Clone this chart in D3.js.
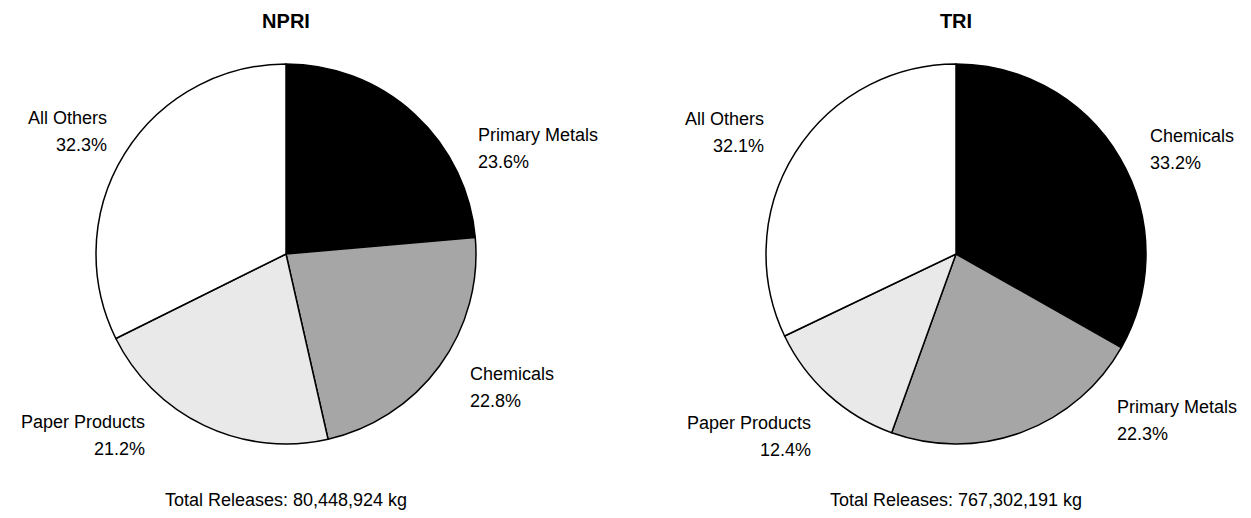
<!DOCTYPE html>
<html>
<head>
<meta charset="utf-8">
<script src="https://cdn.jsdelivr.net/npm/d3@7"></script>
<style>
  body { margin: 0; background: #fff; }
  text { font-family: "Liberation Sans", Arial, sans-serif; fill: #000; }
</style>
</head>
<body>
<div id="chart"></div>
<script>
// data
var npriCategories = ["Primary Metals", "Chemicals", "Paper Products", "All Others"];
var npriValues = [23.6, 22.8, 21.2, 32.3];
var npriTotal = "Total Releases: 80,448,924 kg";

var triCategories = ["Chemicals", "Primary Metals", "Paper Products", "All Others"];
var triValues = [33.2, 22.3, 12.4, 32.1];
var triTotal = "Total Releases: 767,302,191 kg";

var titles = ["NPRI", "TRI"];

var width = 1251;
var height = 518;
var radius = 190;

// first slice black, second grey, third light grey, last white
var sliceFill = ["#000000", "#a6a6a6", "#e9e9e9", "#ffffff"];

// label placement relative to pie centre (x, first baseline, anchor)
var npriLabelPos = [
  {dx: 192, dy: -113, anchor: "start"},
  {dx: 184, dy: 126, anchor: "start"},
  {dx: -141, dy: 174, anchor: "end"},
  {dx: -179, dy: -130, anchor: "end"}
];
var triLabelPos = [
  {dx: 194, dy: -112, anchor: "start"},
  {dx: 161, dy: 159, anchor: "start"},
  {dx: -145, dy: 175, anchor: "end"},
  {dx: -192, dy: -129, anchor: "end"}
];

var svg = d3.select("#chart")
  .append("svg")
  .attr("width", width)
  .attr("height", height);

var pie = d3.pie()
  .value(function(d) { return d.value; })
  .sort(null);

var arc = d3.arc()
  .innerRadius(0)
  .outerRadius(radius);

function drawPie(cx, cy, title, categories, values, labelPos, total) {
  var data = categories.map(function(c, i) { return {name: c, value: values[i]}; });

  var g = svg.append("g")
    .attr("transform", "translate(" + cx + "," + cy + ")");

  g.selectAll("path")
    .data(pie(data))
    .enter()
    .append("path")
    .attr("d", arc)
    .attr("fill", function(d, i) { return sliceFill[i]; })
    .attr("stroke", "#000")
    .attr("stroke-width", 1.5)
    .attr("stroke-linejoin", "round");

  g.append("text")
    .attr("text-anchor", "middle")
    .attr("y", -226)
    .style("font-weight", "bold")
    .style("font-size", "20px")
    .text(title);

  var labels = g.selectAll(".lbl")
    .data(data)
    .enter()
    .append("text")
    .attr("class", "lbl")
    .attr("text-anchor", function(d, i) { return labelPos[i].anchor; })
    .attr("x", function(d, i) { return labelPos[i].dx; })
    .attr("y", function(d, i) { return labelPos[i].dy; })
    .style("font-size", "18px");

  labels.append("tspan")
    .attr("x", function(d, i) { return labelPos[i].dx; })
    .text(function(d) { return d.name; });

  labels.append("tspan")
    .attr("x", function(d, i) { return labelPos[i].dx; })
    .attr("dy", 27)
    .text(function(d) { return d.value.toFixed(1) + "%"; });

  g.append("text")
    .attr("text-anchor", "middle")
    .attr("y", 252)
    .style("font-size", "18px")
    .text(total);
}

drawPie(286, 254, titles[0], npriCategories, npriValues, npriLabelPos, npriTotal);
drawPie(956, 254, titles[1], triCategories, triValues, triLabelPos, triTotal);
</script>
</body>
</html>
